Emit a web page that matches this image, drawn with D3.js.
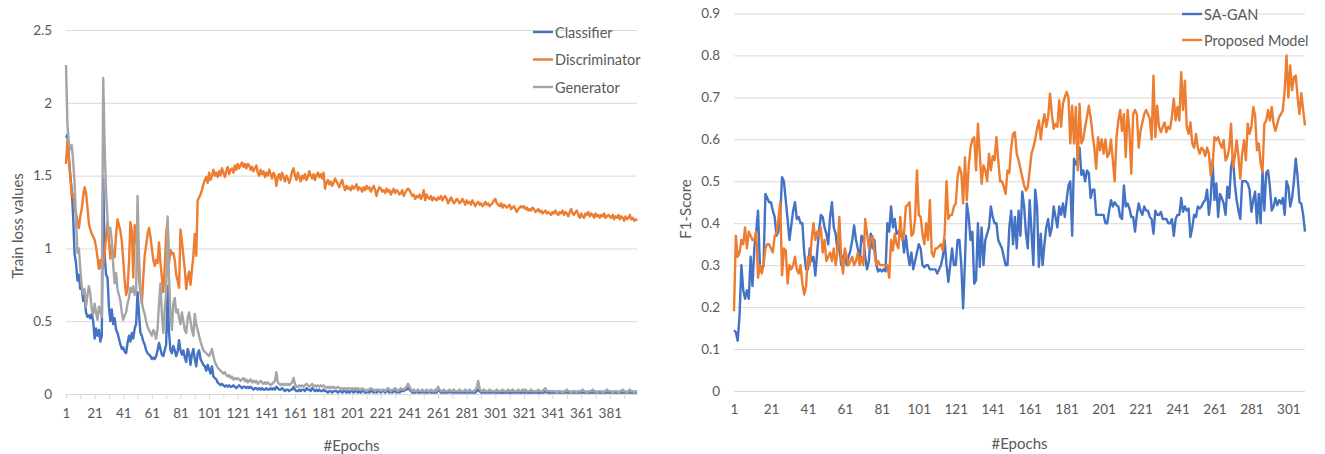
<!DOCTYPE html>
<html>
<head>
<meta charset="utf-8">
<script src="https://cdn.jsdelivr.net/npm/d3@7"></script>
<style>
  body { margin: 0; background: #fff; }
  svg text { font-family: Lato, "Open Sans", sans-serif; fill: #595959; }
</style>
</head>
<body>
<script>
// ---- left panel: train loss per epoch (epochs 1..400)
const lossNames = ["Classifier", "Discriminator", "Generator"];
const lossYTicks = [0, 0.5, 1, 1.5, 2, 2.5];
const lossXLabels = [1, 21, 41, 61, 81, 101, 121, 141, 161, 181, 201, 221, 241, 261, 281, 301, 321, 341, 361, 381];

const lossClassifier = [
  1.76,1.78,1.62,1.50,1.40,1.22,0.96,0.90,0.78,0.82,0.72,0.74,0.64,0.66,0.56,0.53,0.54,0.52,0.55,0.50,
  0.38,0.45,0.40,0.44,0.36,0.40,1.48,0.95,0.82,0.80,0.60,0.50,0.58,0.48,0.52,0.44,0.42,0.38,0.34,0.31,
  0.32,0.29,0.28,0.35,0.40,0.36,0.42,0.38,0.45,0.48,0.70,0.55,0.42,0.40,0.36,0.34,0.30,0.28,0.27,0.26,
  0.24,0.25,0.24,0.26,0.30,0.35,0.31,0.27,0.26,0.30,0.34,0.74,0.42,0.30,0.28,0.33,0.30,0.26,0.29,0.37,
  0.30,0.27,0.30,0.25,0.22,0.31,0.28,0.20,0.27,0.31,0.24,0.19,0.28,0.30,0.24,0.22,0.20,0.19,0.16,0.20,
  0.17,0.14,0.19,0.12,0.11,0.10,0.08,0.07,0.06,0.07,0.06,0.05,0.06,0.05,0.06,0.05,0.05,0.06,0.05,0.04,
  0.05,0.06,0.05,0.04,0.05,0.05,0.04,0.05,0.04,0.05,0.04,0.03,0.04,0.04,0.03,0.04,0.03,0.04,0.03,0.03,
  0.04,0.03,0.03,0.04,0.03,0.04,0.03,0.05,0.04,0.03,0.03,0.04,0.03,0.02,0.03,0.03,0.02,0.03,0.03,0.05,
  0.03,0.02,0.02,0.03,0.02,0.03,0.03,0.02,0.04,0.03,0.03,0.02,0.04,0.03,0.02,0.03,0.02,0.03,0.02,0.02,
  0.03,0.02,0.02,0.01,0.02,0.02,0.01,0.02,0.02,0.02,0.01,0.02,0.02,0.01,0.02,0.02,0.01,0.02,0.01,0.02,
  0.02,0.01,0.02,0.02,0.01,0.02,0.01,0.02,0.02,0.01,0.01,0.02,0.01,0.02,0.02,0.01,0.02,0.01,0.02,0.02,
  0.01,0.02,0.02,0.01,0.02,0.02,0.01,0.02,0.01,0.02,0.02,0.01,0.02,0.01,0.02,0.02,0.02,0.03,0.03,0.04,
  0.03,0.02,0.01,0.01,0.01,0.02,0.01,0.01,0.01,0.02,0.01,0.01,0.01,0.01,0.02,0.01,0.01,0.01,0.01,0.01,
  0.03,0.02,0.01,0.01,0.01,0.01,0.01,0.01,0.02,0.01,0.01,0.01,0.01,0.01,0.01,0.01,0.01,0.01,0.01,0.01,
  0.01,0.01,0.01,0.01,0.01,0.01,0.01,0.02,0.03,0.02,0.01,0.01,0.01,0.01,0.01,0.01,0.01,0.01,0.01,0.01,
  0.01,0.01,0.01,0.012,0.01,0.008,0.01,0.01,0.012,0.01,0.01,0.008,0.01,0.01,0.01,0.012,0.01,0.01,0.008,0.01,
  0.01,0.012,0.01,0.01,0.008,0.01,0.01,0.01,0.012,0.01,0.01,0.008,0.01,0.01,0.01,0.015,0.01,0.01,0.008,0.01,
  0.01,0.01,0.012,0.008,0.01,0.01,0.01,0.008,0.01,0.01,0.012,0.01,0.01,0.008,0.01,0.01,0.01,0.008,0.01,0.01,
  0.01,0.012,0.01,0.01,0.008,0.01,0.01,0.01,0.012,0.01,0.01,0.008,0.01,0.01,0.01,0.008,0.01,0.01,0.012,0.01,
  0.01,0.01,0.008,0.01,0.01,0.01,0.008,0.01,0.01,0.012,0.01,0.01,0.008,0.01,0.012,0.01,0.01,0.008,0.01,0.01
];

const lossDiscriminator = [
  1.58,1.74,1.62,1.50,1.36,1.37,1.30,1.24,1.19,1.14,1.22,1.27,1.36,1.42,1.38,1.28,1.17,1.13,1.10,1.08,
  1.06,1.01,0.94,0.86,0.92,0.86,0.88,0.97,1.08,1.18,1.05,0.93,1.02,0.95,0.94,1.10,1.20,1.16,1.12,1.05,
  0.92,0.78,0.68,0.72,0.90,1.18,1.12,0.80,1.16,1.10,0.98,0.80,0.70,0.62,0.80,0.95,1.02,1.10,1.14,1.08,
  1.00,0.92,0.88,0.92,0.90,1.04,0.90,0.80,0.70,0.88,1.10,1.19,0.90,0.99,0.96,0.97,0.92,0.82,0.78,0.73,
  1.13,1.05,0.95,0.86,0.72,0.80,0.84,0.75,0.85,0.95,1.10,0.95,1.33,1.35,1.37,1.40,1.44,1.47,1.49,1.45,
  1.52,1.47,1.50,1.54,1.50,1.52,1.49,1.53,1.50,1.55,1.52,1.49,1.53,1.56,1.51,1.54,1.55,1.52,1.57,1.54,
  1.58,1.55,1.57,1.59,1.56,1.58,1.55,1.58,1.57,1.54,1.56,1.53,1.55,1.57,1.52,1.50,1.54,1.51,1.53,1.49,
  1.52,1.50,1.54,1.51,1.48,1.52,1.50,1.43,1.49,1.51,1.47,1.52,1.49,1.46,1.50,1.48,1.45,1.48,1.53,1.55,
  1.50,1.47,1.52,1.49,1.46,1.50,1.48,1.51,1.47,1.49,1.53,1.50,1.48,1.51,1.47,1.50,1.52,1.49,1.51,1.48,
  1.52,1.41,1.45,1.47,1.44,1.46,1.43,1.45,1.48,1.46,1.44,1.42,1.45,1.47,1.43,1.40,1.43,1.41,1.42,1.40,
  1.43,1.41,1.42,1.44,1.40,1.42,1.41,1.39,1.42,1.40,1.43,1.41,1.42,1.39,1.41,1.43,1.40,1.36,1.40,1.42,
  1.41,1.39,1.40,1.38,1.41,1.39,1.40,1.37,1.39,1.41,1.38,1.40,1.39,1.37,1.38,1.40,1.36,1.38,1.40,1.41,
  1.40,1.38,1.36,1.37,1.34,1.36,1.35,1.37,1.34,1.36,1.40,1.33,1.37,1.35,1.34,1.36,1.33,1.35,1.34,1.33,
  1.35,1.34,1.36,1.33,1.35,1.36,1.34,1.31,1.33,1.35,1.33,1.31,1.32,1.34,1.33,1.31,1.32,1.34,1.32,1.30,
  1.33,1.31,1.32,1.30,1.33,1.31,1.29,1.31,1.32,1.30,1.31,1.29,1.30,1.32,1.30,1.31,1.29,1.30,1.31,1.33,
  1.34,1.31,1.30,1.29,1.31,1.28,1.30,1.29,1.28,1.29,1.30,1.27,1.28,1.29,1.27,1.25,1.27,1.28,1.29,1.28,
  1.29,1.27,1.28,1.26,1.27,1.26,1.28,1.27,1.25,1.26,1.27,1.25,1.26,1.24,1.25,1.26,1.24,1.25,1.24,1.23,
  1.25,1.24,1.26,1.24,1.23,1.25,1.24,1.26,1.23,1.25,1.24,1.22,1.25,1.27,1.24,1.23,1.25,1.26,1.23,1.21,
  1.24,1.22,1.21,1.24,1.23,1.25,1.22,1.24,1.23,1.21,1.24,1.22,1.23,1.21,1.23,1.22,1.24,1.21,1.22,1.23,
  1.22,1.21,1.23,1.20,1.22,1.21,1.23,1.20,1.22,1.21,1.19,1.22,1.20,1.21,1.23,1.20,1.21,1.19,1.20,1.19
];

const lossGenerator = [
  2.26,1.85,1.72,1.68,1.71,1.60,1.45,1.20,0.97,1.00,0.86,0.74,0.69,0.72,0.60,0.68,0.74,0.69,0.58,0.55,
  0.62,0.56,0.51,0.60,0.57,0.53,2.17,1.70,1.38,1.20,1.10,1.14,1.05,0.88,0.76,0.83,0.72,0.68,0.64,0.56,
  0.51,0.54,0.56,0.62,0.66,0.73,0.70,0.74,0.68,0.72,1.36,0.95,0.72,0.63,0.58,0.55,0.50,0.46,0.44,0.42,
  0.40,0.44,0.42,0.38,0.45,0.62,0.76,0.55,0.42,0.58,0.70,1.22,0.80,0.55,0.44,0.62,0.66,0.56,0.58,0.52,
  0.48,0.56,0.50,0.44,0.42,0.52,0.56,0.50,0.44,0.40,0.55,0.48,0.44,0.40,0.36,0.33,0.30,0.29,0.28,0.27,
  0.26,0.28,0.31,0.26,0.22,0.20,0.18,0.17,0.16,0.15,0.14,0.15,0.13,0.12,0.13,0.11,0.12,0.10,0.11,0.10,
  0.11,0.10,0.09,0.10,0.11,0.09,0.10,0.08,0.09,0.10,0.08,0.09,0.08,0.09,0.07,0.08,0.09,0.08,0.07,0.08,
  0.07,0.08,0.07,0.06,0.07,0.08,0.09,0.15,0.08,0.07,0.06,0.07,0.06,0.07,0.06,0.07,0.06,0.07,0.08,0.11,
  0.07,0.05,0.05,0.06,0.05,0.06,0.05,0.06,0.07,0.06,0.05,0.06,0.07,0.05,0.06,0.05,0.06,0.05,0.06,0.05,
  0.06,0.05,0.04,0.05,0.04,0.05,0.04,0.05,0.04,0.04,0.05,0.04,0.04,0.03,0.04,0.04,0.03,0.04,0.04,0.03,
  0.04,0.03,0.04,0.03,0.04,0.03,0.03,0.04,0.03,0.03,0.02,0.03,0.03,0.04,0.03,0.03,0.02,0.03,0.03,0.03,
  0.02,0.03,0.03,0.02,0.03,0.04,0.03,0.02,0.03,0.03,0.04,0.03,0.02,0.03,0.04,0.03,0.03,0.04,0.05,0.07,
  0.05,0.03,0.02,0.03,0.02,0.02,0.03,0.02,0.02,0.03,0.02,0.02,0.03,0.02,0.02,0.03,0.02,0.02,0.03,0.02,
  0.05,0.03,0.02,0.02,0.03,0.02,0.02,0.02,0.03,0.02,0.02,0.03,0.02,0.02,0.02,0.03,0.02,0.02,0.02,0.03,
  0.02,0.02,0.03,0.02,0.02,0.02,0.03,0.04,0.09,0.04,0.02,0.02,0.03,0.02,0.02,0.02,0.03,0.02,0.02,0.02,
  0.02,0.03,0.02,0.02,0.02,0.03,0.02,0.02,0.02,0.03,0.02,0.02,0.03,0.02,0.02,0.02,0.03,0.02,0.02,0.03,
  0.02,0.03,0.02,0.02,0.02,0.03,0.02,0.02,0.02,0.02,0.03,0.02,0.02,0.02,0.03,0.04,0.02,0.02,0.02,0.02,
  0.02,0.02,0.02,0.01,0.02,0.02,0.02,0.01,0.02,0.02,0.03,0.02,0.02,0.01,0.02,0.02,0.02,0.01,0.02,0.02,
  0.02,0.03,0.02,0.02,0.01,0.02,0.02,0.02,0.03,0.02,0.02,0.01,0.02,0.02,0.02,0.01,0.02,0.02,0.03,0.02,
  0.02,0.02,0.01,0.02,0.02,0.02,0.01,0.02,0.02,0.03,0.02,0.02,0.01,0.02,0.03,0.02,0.02,0.01,0.02,0.02
];

// ---- right panel: F1-score per epoch (epochs 1..310)
const f1Names = ["SA-GAN", "Proposed Model"];
const f1YTicks = [0, 0.1, 0.2, 0.3, 0.4, 0.5, 0.6, 0.7, 0.8, 0.9];
const f1XLabels = [1, 21, 41, 61, 81, 101, 121, 141, 161, 181, 201, 221, 241, 261, 281, 301];

const f1SaGan = [
  0.145,0.14,0.12,0.18,0.30,0.24,0.22,0.24,0.22,0.32,0.25,0.34,0.38,0.43,0.30,0.29,0.30,0.47,0.46,0.45,
  0.45,0.43,0.415,0.37,0.38,0.415,0.51,0.50,0.455,0.41,0.36,0.395,0.43,0.45,0.41,0.415,0.40,0.40,0.33,0.29,
  0.29,0.34,0.31,0.32,0.275,0.33,0.38,0.42,0.415,0.39,0.375,0.35,0.415,0.45,0.39,0.375,0.335,0.35,0.30,0.32,
  0.33,0.30,0.32,0.335,0.36,0.395,0.36,0.34,0.31,0.37,0.365,0.32,0.29,0.31,0.375,0.34,0.36,0.30,0.285,0.29,
  0.285,0.29,0.285,0.40,0.38,0.44,0.39,0.41,0.375,0.38,0.37,0.375,0.33,0.37,0.33,0.30,0.33,0.29,0.31,0.33,
  0.35,0.34,0.30,0.295,0.30,0.30,0.29,0.29,0.29,0.29,0.28,0.29,0.30,0.32,0.36,0.30,0.26,0.30,0.34,0.30,
  0.30,0.36,0.36,0.30,0.197,0.31,0.447,0.415,0.36,0.38,0.256,0.264,0.40,0.296,0.39,0.30,0.36,0.375,0.39,0.44,
  0.415,0.40,0.40,0.36,0.35,0.34,0.32,0.30,0.30,0.39,0.43,0.35,0.415,0.34,0.43,0.37,0.475,0.44,0.375,0.34,
  0.455,0.38,0.30,0.48,0.44,0.296,0.375,0.30,0.35,0.39,0.41,0.37,0.39,0.44,0.415,0.39,0.44,0.42,0.447,0.415,
  0.455,0.49,0.50,0.37,0.554,0.54,0.55,0.58,0.515,0.526,0.50,0.526,0.52,0.46,0.48,0.48,0.42,0.42,0.42,0.42,
  0.42,0.40,0.40,0.43,0.455,0.44,0.45,0.443,0.44,0.415,0.41,0.49,0.44,0.447,0.435,0.415,0.415,0.38,0.42,0.447,
  0.43,0.42,0.44,0.43,0.43,0.415,0.41,0.375,0.43,0.42,0.42,0.427,0.41,0.41,0.41,0.40,0.40,0.41,0.37,0.41,
  0.42,0.42,0.46,0.427,0.44,0.43,0.435,0.367,0.39,0.42,0.415,0.44,0.435,0.44,0.45,0.455,0.48,0.42,0.46,0.55,
  0.455,0.495,0.415,0.47,0.46,0.447,0.42,0.487,0.46,0.534,0.558,0.495,0.455,0.43,0.41,0.50,0.50,0.50,0.495,0.48,
  0.427,0.455,0.475,0.40,0.47,0.40,0.526,0.43,0.52,0.526,0.487,0.43,0.44,0.46,0.443,0.455,0.447,0.46,0.42,0.50,
  0.487,0.44,0.46,0.50,0.554,0.51,0.45,0.447,0.42,0.38
];

const f1Proposed = [
  0.19,0.37,0.32,0.33,0.36,0.35,0.39,0.34,0.38,0.37,0.36,0.36,0.38,0.27,0.30,0.28,0.30,0.34,0.35,0.35,
  0.34,0.33,0.37,0.375,0.41,0.45,0.276,0.34,0.335,0.256,0.30,0.29,0.30,0.32,0.29,0.28,0.30,0.256,0.23,0.25,
  0.32,0.30,0.36,0.40,0.36,0.38,0.37,0.39,0.33,0.36,0.31,0.32,0.33,0.31,0.34,0.30,0.33,0.415,0.32,0.28,
  0.34,0.32,0.30,0.31,0.32,0.30,0.31,0.33,0.30,0.32,0.30,0.41,0.375,0.34,0.36,0.37,0.33,0.30,0.31,0.30,
  0.30,0.30,0.30,0.30,0.27,0.36,0.335,0.375,0.35,0.34,0.415,0.36,0.375,0.44,0.443,0.45,0.37,0.375,0.41,0.526,
  0.42,0.415,0.375,0.35,0.40,0.36,0.455,0.33,0.32,0.34,0.34,0.345,0.35,0.335,0.375,0.50,0.41,0.42,0.42,0.44,
  0.447,0.51,0.534,0.52,0.447,0.557,0.455,0.534,0.58,0.60,0.605,0.526,0.637,0.566,0.494,0.538,0.526,0.50,0.566,0.526,
  0.56,0.55,0.605,0.55,0.50,0.50,0.487,0.47,0.526,0.52,0.58,0.613,0.617,0.566,0.55,0.53,0.51,0.49,0.478,0.486,
  0.526,0.566,0.58,0.60,0.625,0.645,0.60,0.637,0.66,0.63,0.653,0.709,0.66,0.625,0.637,0.63,0.693,0.63,0.685,0.70,
  0.713,0.70,0.59,0.68,0.59,0.677,0.526,0.685,0.59,0.60,0.63,0.653,0.68,0.653,0.613,0.58,0.53,0.605,0.574,0.60,
  0.566,0.60,0.558,0.566,0.60,0.55,0.50,0.605,0.645,0.67,0.62,0.66,0.558,0.67,0.62,0.518,0.66,0.67,0.66,0.58,
  0.62,0.64,0.66,0.67,0.66,0.65,0.60,0.752,0.605,0.68,0.63,0.617,0.63,0.64,0.617,0.63,0.625,0.655,0.697,0.645,
  0.677,0.645,0.76,0.67,0.74,0.63,0.613,0.64,0.59,0.58,0.613,0.58,0.566,0.58,0.575,0.56,0.58,0.566,0.514,0.538,
  0.605,0.598,0.605,0.59,0.58,0.598,0.55,0.558,0.58,0.637,0.534,0.558,0.598,0.558,0.506,0.566,0.598,0.55,0.637,0.613,
  0.63,0.677,0.657,0.574,0.59,0.542,0.522,0.637,0.645,0.67,0.645,0.677,0.637,0.62,0.637,0.653,0.66,0.67,0.717,0.80,
  0.70,0.776,0.717,0.748,0.752,0.70,0.66,0.71,0.67,0.633
];

const colors = ["#4472C4", "#ED7D31", "#A5A5A5"];

const width = 1325;
const height = 454;

const svg = d3.select("body")
  .append("svg")
  .attr("width", width)
  .attr("height", height);

function drawPanel(cfg) {
  const g = svg.append("g");
  const n = cfg.series[0].length;

  const x = d3.scaleLinear()
    .domain([1, n])
    .range([cfg.left, cfg.right]);

  const y = d3.scaleLinear()
    .domain([0, cfg.yMax])
    .range([cfg.bottom, cfg.top]);

  // horizontal gridlines + y tick labels
  g.append("g")
    .attr("transform", `translate(${cfg.left},0)`)
    .call(d3.axisLeft(y)
      .tickValues(cfg.yTicks)
      .tickSize(-(cfg.right - cfg.left))
      .tickPadding(14)
      .tickFormat(d => String(d)))
    .call(a => a.select(".domain").remove())
    .call(a => a.selectAll(".tick line").attr("stroke", "#d9d9d9"))
    .call(a => a.selectAll(".tick text").attr("font-size", 13.5));

  // minor tick marks on the category axis (left panel only)
  if (cfg.minorTicks) {
    g.append("g")
      .attr("transform", `translate(0,${cfg.bottom})`)
      .call(d3.axisBottom(x)
        .tickValues(d3.range(1, n + 1, 10))
        .tickSize(5)
        .tickSizeOuter(0)
        .tickFormat(""))
      .call(a => a.select(".domain").attr("stroke", "#d9d9d9"))
      .call(a => a.selectAll(".tick line").attr("stroke", "#d9d9d9"));
  }

  // x tick labels
  g.append("g")
    .attr("transform", `translate(0,${cfg.bottom})`)
    .call(d3.axisBottom(x)
      .tickValues(cfg.xLabels)
      .tickSize(0)
      .tickPadding(cfg.xPad))
    .call(a => a.select(".domain").remove())
    .call(a => a.selectAll(".tick text").attr("font-size", 13.5));

  // series lines
  const line = d3.line()
    .x((d, i) => x(i + 1))
    .y(d => y(d));

  cfg.series.forEach((vals, k) => {
    g.append("path")
      .datum(vals)
      .attr("fill", "none")
      .attr("stroke", colors[k])
      .attr("stroke-width", 2.4)
      .attr("stroke-linejoin", "round")
      .attr("d", line);
  });

  // legend
  cfg.names.forEach((name, k) => {
    const ly = cfg.legY + k * cfg.legGap;
    g.append("line")
      .attr("x1", cfg.legX).attr("x2", cfg.legX + 20)
      .attr("y1", ly).attr("y2", ly)
      .attr("stroke", colors[k])
      .attr("stroke-width", 2.4);
    g.append("text")
      .attr("x", cfg.legX + 22)
      .attr("y", ly)
      .attr("dominant-baseline", "central")
      .style("font-size", "14.5px")
      .text(name);
  });

  // axis titles
  g.append("text")
    .attr("x", (cfg.left + cfg.right) / 2)
    .attr("y", cfg.xTitleY)
    .attr("text-anchor", "middle")
    .attr("dominant-baseline", "central")
    .style("font-size", "15px")
    .text("#Epochs");

  g.append("text")
    .attr("transform", `translate(${cfg.yTitleX},${cfg.yTitleY}) rotate(-90)`)
    .attr("text-anchor", "middle")
    .attr("dominant-baseline", "central")
    .style("font-size", "15px")
    .text(cfg.yTitle);
}

drawPanel({
  series: [lossClassifier, lossDiscriminator, lossGenerator],
  names: lossNames,
  yTicks: lossYTicks, yMax: 2.5,
  xLabels: lossXLabels,
  left: 66, right: 637, top: 30, bottom: 394,
  minorTicks: true, xPad: 14,
  legX: 533, legY: 32, legGap: 27.5,
  xTitleY: 445,
  yTitle: "Train loss values", yTitleX: 17, yTitleY: 226
});

drawPanel({
  series: [f1SaGan, f1Proposed],
  names: f1Names,
  yTicks: f1YTicks, yMax: 0.9,
  xLabels: f1XLabels,
  left: 734, right: 1305, top: 13.5, bottom: 391,
  minorTicks: false, xPad: 13,
  legX: 1182, legY: 14, legGap: 26,
  xTitleY: 443,
  yTitle: "F1-Score", yTitleX: 685, yTitleY: 209
});
</script>
</body>
</html>
